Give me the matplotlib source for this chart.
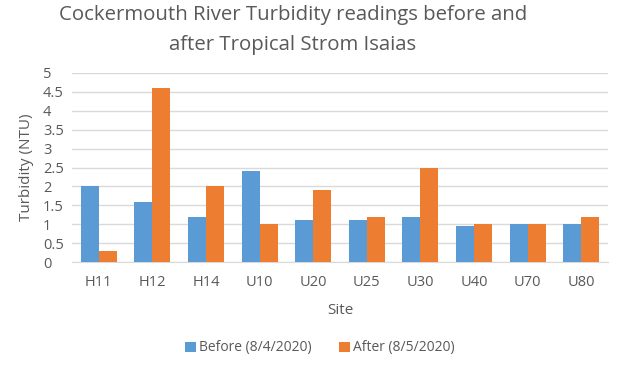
import matplotlib
matplotlib.use("Agg")
import matplotlib.pyplot as plt
import numpy as np

sites = ["H11", "H12", "H14", "U10", "U20", "U25", "U30", "U40", "U70", "U80"]
before = [2.0, 1.6, 1.2, 2.4, 1.1, 1.1, 1.2, 0.95, 1.0, 1.0]
after = [0.3, 4.6, 2.0, 1.0, 1.9, 1.2, 2.5, 1.0, 1.0, 1.2]
yticks = [0, 0.5, 1, 1.5, 2, 2.5, 3, 3.5, 4, 4.5, 5]
ytick_labels = ["0", "0.5", "1", "1.5", "2", "2.5", "3", "3.5", "4", "4.5", "5"]

plt.rcParams['font.family'] = ['Open Sans', 'DejaVu Sans']
txt = "#595959"
W, H = 621, 371

fig = plt.figure(figsize=(6.21, 3.71), dpi=100)
ax = fig.add_axes([72/W, 1 - 262/H, 536/W, (262-73)/H])

x = np.arange(len(sites))
w = 0.335
ax.bar(x - w/2, before, w, color="#5B9BD5", label="Before (8/4/2020)", zorder=3)
ax.bar(x + w/2, after, w, color="#ED7D31", label="After (8/5/2020)", zorder=3)

ax.set_xlim(-0.5, len(sites) - 0.5)
ax.set_ylim(0, 5)
ax.set_yticks(yticks)
ax.set_yticklabels(ytick_labels, ha="left")
ax.set_xticks(x)
ax.set_xticklabels(sites)
ax.tick_params(axis="both", length=0, colors=txt, labelsize=10.5)
ax.tick_params(axis="y", pad=29 * 0.72)
ax.tick_params(axis="x", pad=9)
ax.grid(axis="y", color="#D9D9D9", linewidth=1, zorder=0)
for s in ["top", "right", "left"]:
    ax.spines[s].set_visible(False)
ax.spines["bottom"].set_color("#D9D9D9")

fig.text(27/W, 1 - 167/H, "Turbidity (NTU)", rotation=90, ha="center", va="center",
         color=txt, fontsize=11)
fig.text(340/W, 1 - 310/H, "Site", ha="center", va="center", color=txt, fontsize=11)

fig.text(293/W, 1 - 15/H, "Cockermouth River Turbidity readings before and",
         ha="center", va="center", fontsize=14.7, color=txt)
fig.text(293/W, 1 - 45/H, "after Tropical Strom Isaias",
         ha="center", va="center", fontsize=14.7, color=txt)

leg = fig.legend(loc="center", bbox_to_anchor=(320/W, 1 - 348/H), ncol=2, frameon=False,
                 fontsize=10, handlelength=0.75, handleheight=0.75, handletextpad=0.25,
                 columnspacing=2.0)
for t in leg.get_texts():
    t.set_color(txt)

fig.savefig("out.png", dpi=100)
